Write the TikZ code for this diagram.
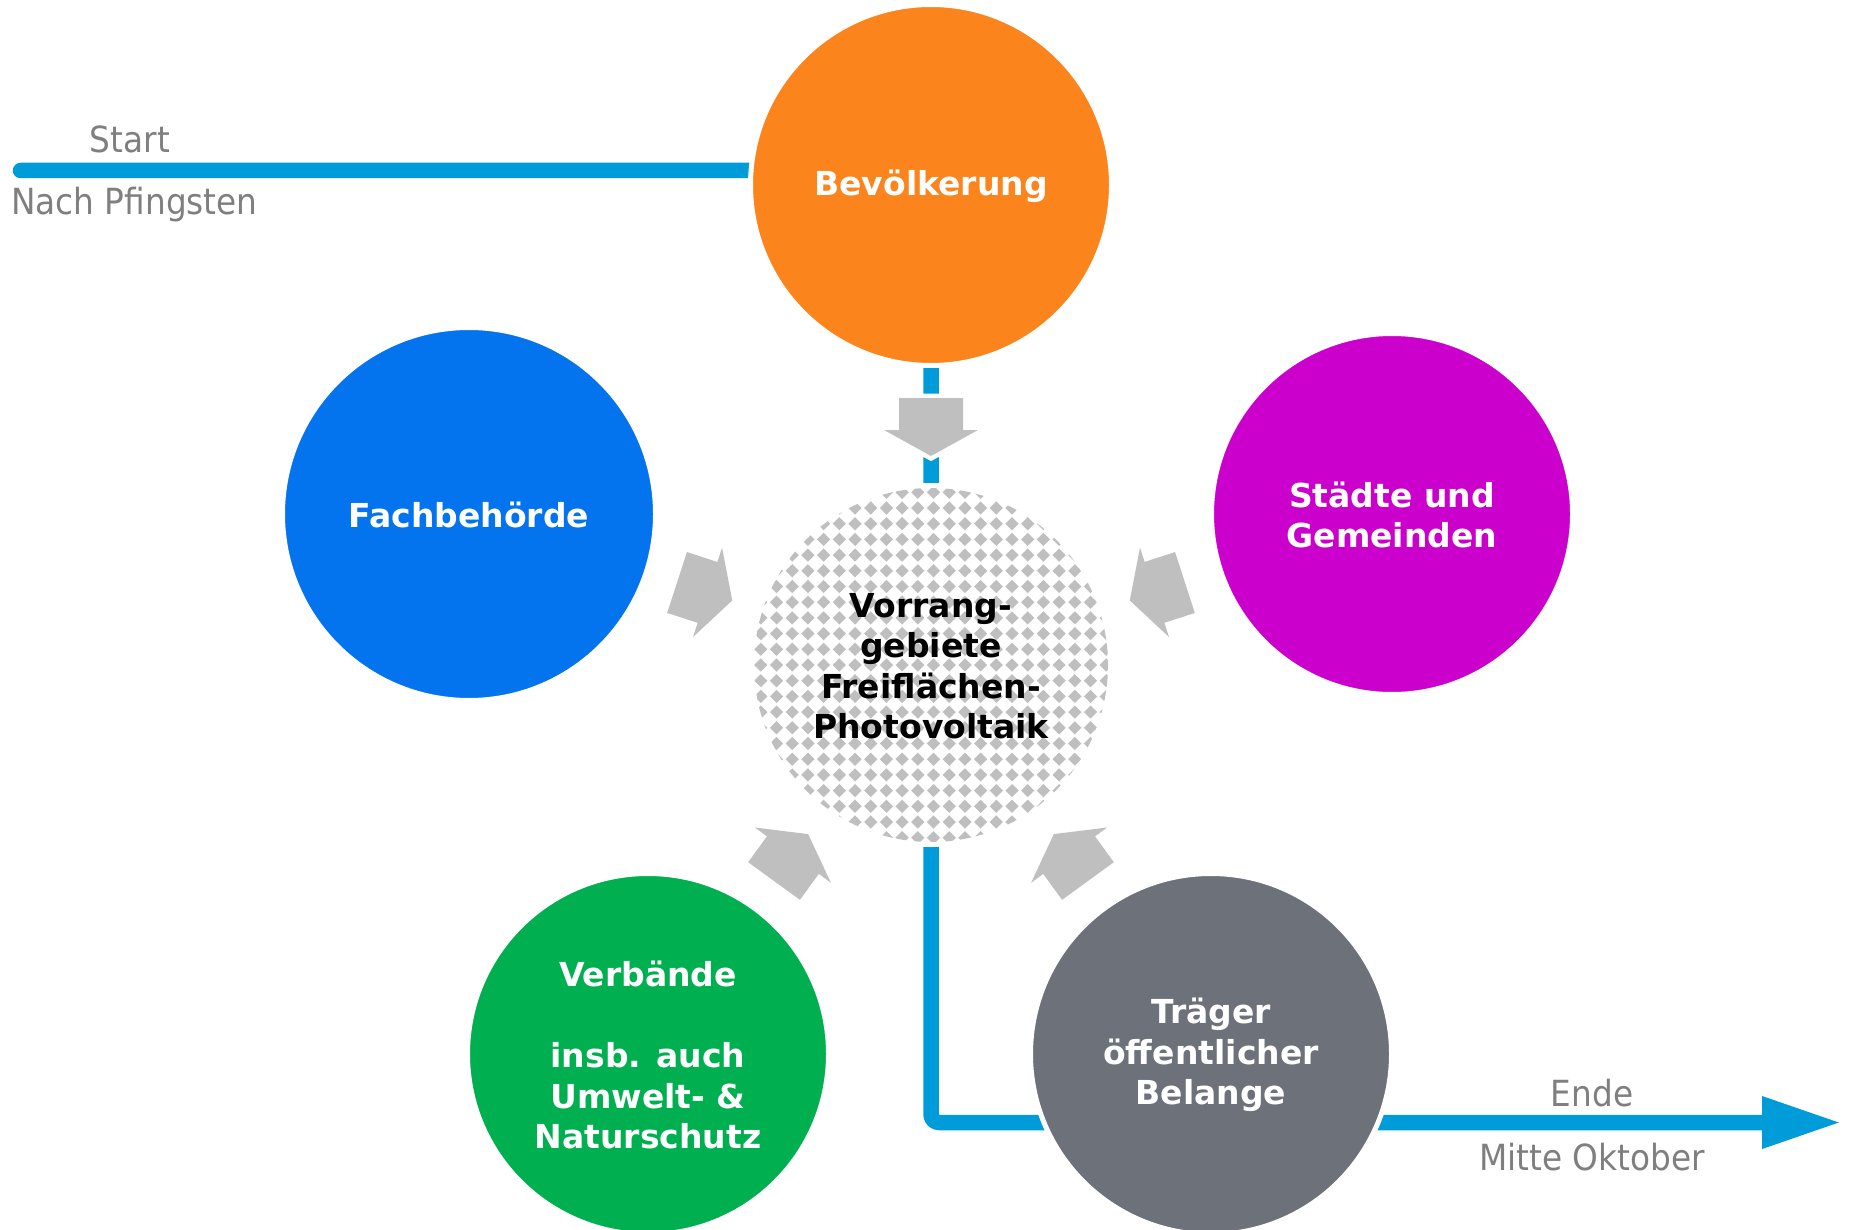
\documentclass[tikz,border=0pt]{standalone}
\usepackage{fontspec}
\setmainfont{DejaVu Sans}
\newfontfamily\lblfont[FakeStretch=0.91]{DejaVu Sans}
\usetikzlibrary{arrows.meta,backgrounds}
\definecolor{cOrange}{HTML}{FB851C}
\definecolor{cBlue}{HTML}{0473EE}
\definecolor{cMag}{HTML}{CC00CC}
\definecolor{cGreen}{HTML}{00B050}
\definecolor{cGrey}{HTML}{6D7179}
\definecolor{cFlow}{HTML}{009BD9}
\definecolor{cArrow}{HTML}{BFBFBF}
\definecolor{cLabel}{HTML}{7F7F7F}
\newcommand\bubblefont{\bfseries\fontsize{33}{40.5}\selectfont}
\tikzset{
  bubble/.style={circle, draw=white, line width=5pt, minimum size=#1, inner sep=0pt},
  btext/.style={align=center, font=\bubblefont, text=white, inner sep=0pt, yshift=-1pt},
  ctext/.style={align=center, font=\bubblefont, text=black, inner sep=0pt, yshift=-1pt},
  lbl/.style={inner sep=0pt, text=cLabel, font=\lblfont\fontsize{36}{43}\selectfont},
  flow/.style={draw=cFlow, line width=15.5pt, line cap=round, line join=round},
  blockarrow/.style={fill=cArrow, preaction={draw=white, line width=9pt, line join=miter}},
}
\begin{document}
\begin{tikzpicture}[x=1pt,y=1pt]
\useasboundingbox (0,0) rectangle (1851,-1230);
% outer circles
\node[bubble=361pt, fill=cOrange] (B) at (931,-185) {};
\node[bubble=373pt, fill=cBlue] (F) at (469,-514) {};
\node[bubble=361pt, fill=cMag] (S) at (1392,-514) {};
\node[bubble=361pt, fill=cGreen] (V) at (648,-1054) {};
\node[bubble=361pt, fill=cGrey] (T) at (1211,-1054) {};
\node[btext] (Bt) at (B.center) {Bevölkerung};
\node[btext] (Ft) at (F.center) {Fachbehörde};
\node[btext] (St) at (S.center) {Städte und\\Gemeinden};
\node[btext] (Vt) at (V.center) {Verbände\\[40.5pt]insb. auch\\Umwelt- \&\\Naturschutz};
\node[btext] (Tt) at (T.center) {Träger\\öffentlicher\\Belange};
% centre circle with diamond pattern
\node[bubble=359pt, fill=white] (C) at (931,-665) {};
\begin{scope}
  \clip (C.center) circle (177);
  \foreach \i in {0,...,24}{
    \foreach \j in {0,...,24}{
      \fill[cArrow] ({745.1+15.7*\i},{-476.6-15.7*\j}) +(6.6,0) -- +(0,6.6) -- +(-6.6,0) -- +(0,-6.6) -- cycle;
    }
  }
\end{scope}
\node[ctext] (Ct) at (C.center) {Vorrang-\\gebiete\\Freiflächen-\\Photovoltaik};
% block arrows pointing to the centre
\foreach \a in {90,162,18,234,306}{
  \begin{scope}[shift={(C.center)}, rotate=\a]
    \path[blockarrow] (209,0) -- (235,47) -- (235,32) -- (267,32) -- (267,-32) -- (235,-32) -- (235,-47) -- cycle;
  \end{scope}
}
% flow line
\coordinate (st) at (20.5,-170.5);
\coordinate (en) at (1842,-1122.5);
\begin{scope}[on background layer]
  \draw[flow, rounded corners=8pt, -{Triangle[length=80pt,width=48pt]}]
    (st) -- (st -| C.center) -- (C.center |- en) -- (en);
\end{scope}
% labels
\node[lbl, anchor=base] (lstart) at (130,-153) {Start};
\node[lbl, anchor=base west] (lpf) at (11,-215) {Nach Pfingsten};
\node[lbl, anchor=base] (lend) at (1592,-1106) {Ende};
\node[lbl, anchor=base] (lmo) at (1592,-1170) {Mitte Oktober};
\end{tikzpicture}
\end{document}
